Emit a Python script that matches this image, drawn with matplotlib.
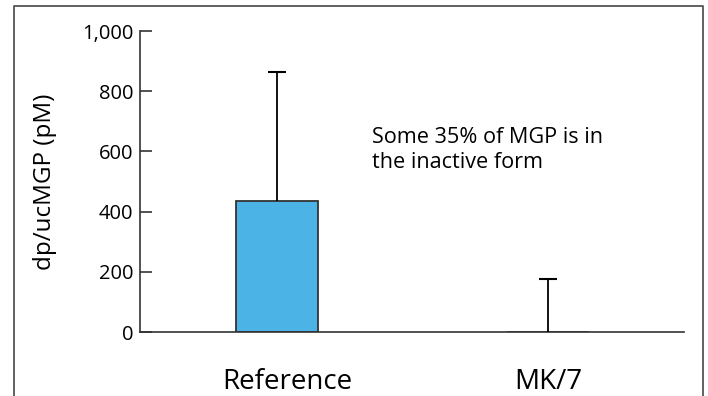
import matplotlib
matplotlib.use("Agg")
import matplotlib.pyplot as plt
from matplotlib.lines import Line2D
from matplotlib.transforms import ScaledTranslation

plt.rcParams["font.family"] = ["Open Sans", "DejaVu Sans"]

# Data
groups = ["Reference", "MK/7"]
means = [435, 0]
upper_err = [430, 177]
note = "Some 35% of MGP is in\nthe inactive form"

WIDTH, HEIGHT, DPI = 708, 396, 100
BAR_COLOR = "#4BB3E6"
EDGE_COLOR = "#333333"
FRAME_COLOR = "#555555"

fig = plt.figure(figsize=(WIDTH / DPI, HEIGHT / DPI), dpi=DPI)

# axes box in pixels: x 140..684, y 31..332 (from top)
ax = fig.add_axes([140 / WIDTH, 1 - 332 / HEIGHT, (684 - 140) / WIDTH, (332 - 31) / HEIGHT])

x = range(len(groups))
ax.bar(x, means, width=0.306, color=BAR_COLOR, edgecolor=EDGE_COLOR, linewidth=1.3, zorder=2)
eb = ax.errorbar(x, means, yerr=[[0] * len(means), upper_err], fmt="none",
                 ecolor="black", elinewidth=1.3, capsize=6.5, capthick=1.5, zorder=3)
# only the upper cap is drawn
eb.lines[1][0].set_visible(False)

ax.set_xlim(-0.5055, 1.502)
ax.set_ylim(0, 1000)
ax.set_yticks([0, 200, 400, 600, 800, 1000])
ax.set_yticklabels(["0", "200", "400", "600", "800", "1,000"])
ax.set_xticks(list(x))
ax.set_xticklabels(groups)

ax.tick_params(axis="y", direction="in", length=8.5, width=1.2, pad=5,
               labelsize=14.5, color=EDGE_COLOR)
ax.tick_params(axis="x", length=0, pad=26, labelsize=20)

# first group label sits a little right of its bar
lbl = ax.get_xticklabels()[0]
lbl.set_transform(lbl.get_transform() + ScaledTranslation(10 / DPI, 0, fig.dpi_scale_trans))

for side in ("top", "right"):
    ax.spines[side].set_visible(False)
for side in ("left", "bottom"):
    ax.spines[side].set_color(EDGE_COLOR)
    ax.spines[side].set_linewidth(1.2)

ax.set_ylabel("dp/ucMGP (pM)", fontsize=17.5, labelpad=18)

ax.text(0.427, 0.68, note, transform=ax.transAxes, fontsize=15.6,
        ha="left", va="top", linespacing=1.22)

# outer frame, open at the bottom
frame_x = [14 / WIDTH, 14 / WIDTH, 703 / WIDTH, 703 / WIDTH]
frame_y = [0, 1 - 6 / HEIGHT, 1 - 6 / HEIGHT, 0]
fig.add_artist(Line2D(frame_x, frame_y, color=FRAME_COLOR, linewidth=1.3,
                      transform=fig.transFigure))

fig.savefig("out.png", dpi=DPI)
